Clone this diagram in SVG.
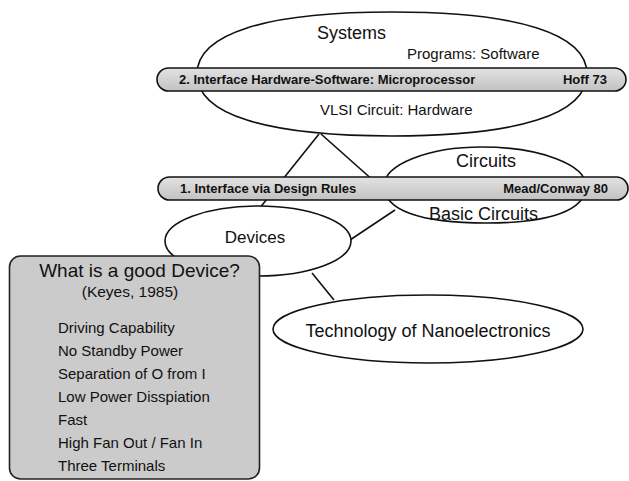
<svg xmlns="http://www.w3.org/2000/svg" width="629" height="481" viewBox="0 0 629 481">
  <defs>
    <linearGradient id="barFill" x1="0" y1="0" x2="0" y2="1">
      <stop offset="0" stop-color="#e2e2e2"/>
      <stop offset="0.5" stop-color="#d2d2d2"/>
      <stop offset="1" stop-color="#c2c2c2"/>
    </linearGradient>
    <style>
      .node { fill: #ffffff; stroke: #111111; stroke-width: 1.6; }
      .bar { fill: url(#barFill); stroke: #111111; stroke-width: 1.6; }
      .box { fill: #cbcbcb; stroke: #222222; stroke-width: 1.6; }
      .link { stroke: #111111; stroke-width: 1.6; fill: none; }
      text { font-family: "Liberation Sans", Arial, sans-serif; fill: #111111; }
      .big { font-size: 18px; }
      .mid { font-size: 15px; }
      .bold { font-size: 13px; font-weight: bold; }
    </style>
  </defs>

  <rect width="629" height="481" fill="#ffffff"/>

  <!-- connectors -->
  <g id="connectors">
    <line class="link" x1="319" y1="134" x2="259" y2="209"/>
    <line class="link" x1="321" y1="134" x2="384" y2="190"/>
    <line class="link" x1="350" y1="240" x2="395" y2="210"/>
    <line class="link" x1="312" y1="273" x2="334" y2="300"/>
  </g>

  <!-- Systems level (slightly squarish oval) -->
  <g id="systems">
    <path class="node" d="M197 74 C197 33.7 265.3 12 392 12 C518.8 12 587 33.7 587 74 C587 114.3 518.8 136 392 136 C265.3 136 197 114.3 197 74 Z"/>
    <text class="big" x="317" y="39">Systems</text>
    <text class="mid" x="407" y="59">Programs: Software</text>
    <text class="mid" x="320" y="115">VLSI Circuit: Hardware</text>
  </g>

  <!-- Interface 2 band -->
  <g id="interface2">
    <rect class="bar" x="157" y="68" width="469" height="23" rx="11.5"/>
    <text class="bold" x="179" y="84">2. Interface Hardware-Software: Microprocessor</text>
    <text class="bold" x="607" y="84" text-anchor="end">Hoff 73</text>
  </g>

  <!-- Circuits level -->
  <g id="circuits">
    <path class="node" d="M384 186 C384 164.5 427.9 147 482 147 C539.4 147 586 164.5 586 186 C586 210 551 223 486 223 C419.7 223 384 210 384 186 Z"/>
    <text class="big" x="486" y="167" text-anchor="middle">Circuits</text>
    <text class="big" x="429" y="220">Basic Circuits</text>
  </g>

  <!-- Interface 1 band -->
  <g id="interface1">
    <rect class="bar" x="158" y="177" width="470" height="23" rx="11.5"/>
    <text class="bold" x="180" y="193">1. Interface via Design Rules</text>
    <text class="bold" x="608" y="193" text-anchor="end">Mead/Conway 80</text>
  </g>

  <!-- Devices level -->
  <g id="devices">
    <ellipse class="node" cx="258" cy="241" rx="93" ry="35"/>
    <text x="255" y="243" font-size="17" text-anchor="middle">Devices</text>
  </g>

  <!-- Technology level -->
  <g id="technology">
    <ellipse class="node" cx="428" cy="329" rx="155" ry="34"/>
    <text class="big" x="428" y="337" text-anchor="middle">Technology of Nanoelectronics</text>
  </g>

  <!-- Good device criteria -->
  <g id="criteria">
    <rect class="box" x="9.5" y="256" width="250" height="223" rx="11"/>
    <text x="139.5" y="277" font-size="19" text-anchor="middle">What is a good Device?</text>
    <text x="130" y="297" font-size="15.5" text-anchor="middle">(Keyes, 1985)</text>
    <text class="mid" x="58" y="333">Driving Capability</text>
    <text class="mid" x="58" y="356">No Standby Power</text>
    <text class="mid" x="58" y="379">Separation of O from I</text>
    <text class="mid" x="58" y="402">Low Power Disspiation</text>
    <text class="mid" x="58" y="425">Fast</text>
    <text class="mid" x="58" y="448">High Fan Out / Fan In</text>
    <text class="mid" x="58" y="471">Three Terminals</text>
  </g>
</svg>
